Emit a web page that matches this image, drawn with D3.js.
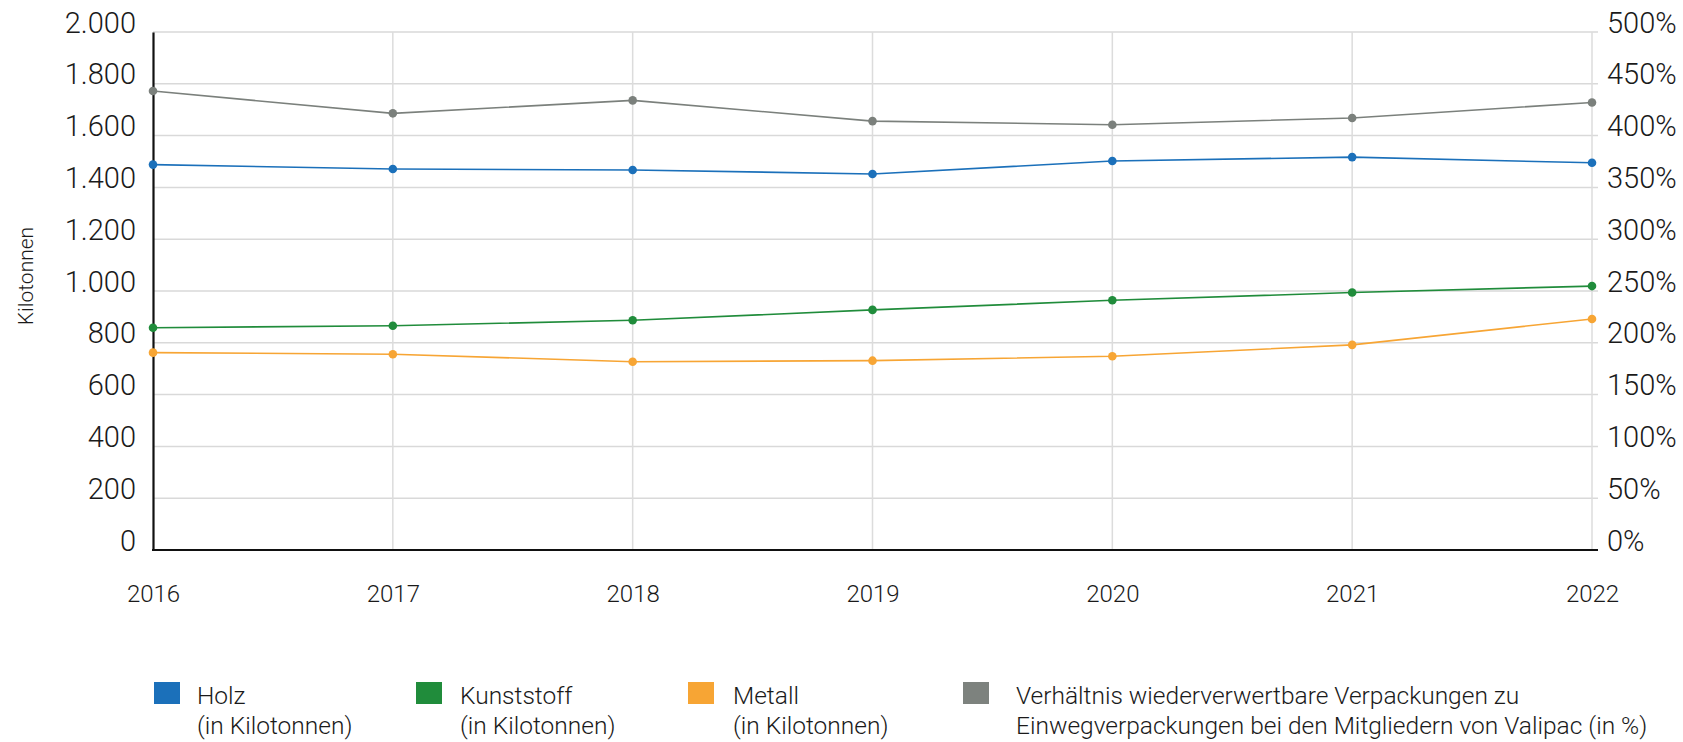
<!DOCTYPE html>
<meta charset="utf-8">
<style>
    body { margin: 0; background: #fff; }
    svg text { font-family: Roboto, "Noto Sans", sans-serif; font-weight: 300; fill: #1a1a1a; }
    .grid line { stroke: #d9d9d9; stroke-width: 1.5px; }
    .vgrid line { stroke: #dcdcdc; stroke-width: 1.5px; }
    .series path { fill: none; stroke-width: 1.6px; }
</style>
<svg width="1683" height="742"></svg>
<script src="https://d3js.org/d3.v7.min.js"></script>
<script>
    // data
    var years = ["2016", "2017", "2018", "2019", "2020", "2021", "2022"];
    var holz = [1488, 1471, 1467, 1452, 1502, 1517, 1495];
    var kunststoff = [858, 866, 887, 927, 964, 994, 1019];
    var metall = [762, 756, 727, 731, 748, 792, 892];
    var verhaeltnis = [443, 421.5, 434, 414, 410.5, 417, 432];

    var leftTicks = [0, 200, 400, 600, 800, 1000, 1200, 1400, 1600, 1800, 2000];
    var rightTicks = [0, 50, 100, 150, 200, 250, 300, 350, 400, 450, 500];

    var seriesColors = ["#1b70ba", "#208c3b", "#f7a534", "#7b807c"];
    var legendLines = [
        ["Holz", "(in Kilotonnen)"],
        ["Kunststoff", "(in Kilotonnen)"],
        ["Metall", "(in Kilotonnen)"],
        ["Verhältnis wiederverwertbare Verpackungen zu", "Einwegverpackungen bei den Mitgliedern von Valipac (in %)"]
    ];

    var svg = d3.select("svg");
    var plotLeft = 153, plotRight = 1592, plotTop = 32, plotBottom = 550;

    var de = d3.formatLocale({decimal: ",", thousands: ".", grouping: [3], currency: ["", "€"]});
    var fmt = de.format(",d");

    var x = d3.scalePoint().domain(years).range([plotLeft, plotRight]);
    var y = d3.scaleLinear().domain([0, 2000]).range([plotBottom, plotTop]);
    var y2 = d3.scaleLinear().domain([0, 500]).range([plotBottom, plotTop]);

    // horizontal grid
    svg.append("g").attr("class", "grid")
        .selectAll("line").data(leftTicks).enter().append("line")
        .attr("x1", plotLeft).attr("x2", 1598)
        .attr("y1", d => y(d)).attr("y2", d => y(d));

    // vertical grid
    svg.append("g").attr("class", "vgrid")
        .selectAll("line").data(years.slice(1)).enter().append("line")
        .attr("x1", d => x(d)).attr("x2", d => x(d))
        .attr("y1", plotTop).attr("y2", plotBottom);

    // left axis
    var ax = svg.append("g").attr("transform", "translate(" + plotLeft + ",0)")
        .call(d3.axisLeft(y).tickValues(leftTicks).tickSize(0).tickPadding(17).tickFormat(fmt));
    ax.select(".domain").attr("stroke", "#111").attr("stroke-width", 2.2);
    ax.selectAll("text").attr("dy", 0).style("font-size", "29px")
        .style("font-family", "Roboto").style("font-weight", 300).attr("fill", "#1a1a1a");

    // right axis (labels only)
    var ax2 = svg.append("g").attr("transform", "translate(" + plotRight + ",0)")
        .call(d3.axisRight(y2).tickValues(rightTicks).tickSize(0).tickPadding(15).tickFormat(d => d + "%"));
    ax2.select(".domain").remove();
    ax2.selectAll("text").attr("dy", 0).style("font-size", "29px")
        .style("font-family", "Roboto").style("font-weight", 300).attr("fill", "#1a1a1a");

    // bottom axis
    var bx = svg.append("g").attr("transform", "translate(0," + plotBottom + ")")
        .call(d3.axisBottom(x).tickSize(0).tickPadding(52));
    bx.select(".domain").attr("d", "M" + (plotLeft - 1) + ",0H1598").attr("stroke", "#111").attr("stroke-width", 2.2);
    bx.selectAll("text").attr("dy", 0).style("font-size", "24px")
        .style("font-family", "Roboto").style("font-weight", 300).attr("fill", "#1a1a1a");

    // y title
    svg.append("text")
        .attr("transform", "translate(33,276) rotate(-90)")
        .attr("text-anchor", "middle")
        .style("font-size", "21px")
        .text("Kilotonnen");

    // series
    var allSeries = [holz, kunststoff, metall, verhaeltnis];
    var g = svg.append("g").attr("class", "series");
    allSeries.forEach(function (vals, i) {
        var sc = i === 3 ? y2 : y;
        var line = d3.line().x((d, j) => x(years[j])).y(d => sc(d));
        g.append("path").datum(vals).attr("d", line).attr("stroke", seriesColors[i]);
        g.selectAll(".pt" + i).data(vals).enter().append("circle")
            .attr("class", "pt" + i)
            .attr("cx", (d, j) => x(years[j]))
            .attr("cy", d => sc(d))
            .attr("r", 4.3)
            .attr("fill", seriesColors[i]);
    });

    // legend
    var legendX = [154, 416, 688, 963];
    var legendGap = [43, 44, 45, 53];
    var lg = svg.append("g");
    legendLines.forEach(function (lines, i) {
        lg.append("rect")
            .attr("x", legendX[i]).attr("y", 682)
            .attr("width", 26).attr("height", 22)
            .attr("fill", i === 3 ? "#7d827e" : seriesColors[i]);
        var t = lg.append("text")
            .attr("y", 704)
            .style("font-size", "24.5px");
        lines.forEach(function (s, k) {
            t.append("tspan").attr("x", legendX[i] + legendGap[i]).attr("dy", k === 0 ? 0 : 30).text(s);
        });
    });
</script>
